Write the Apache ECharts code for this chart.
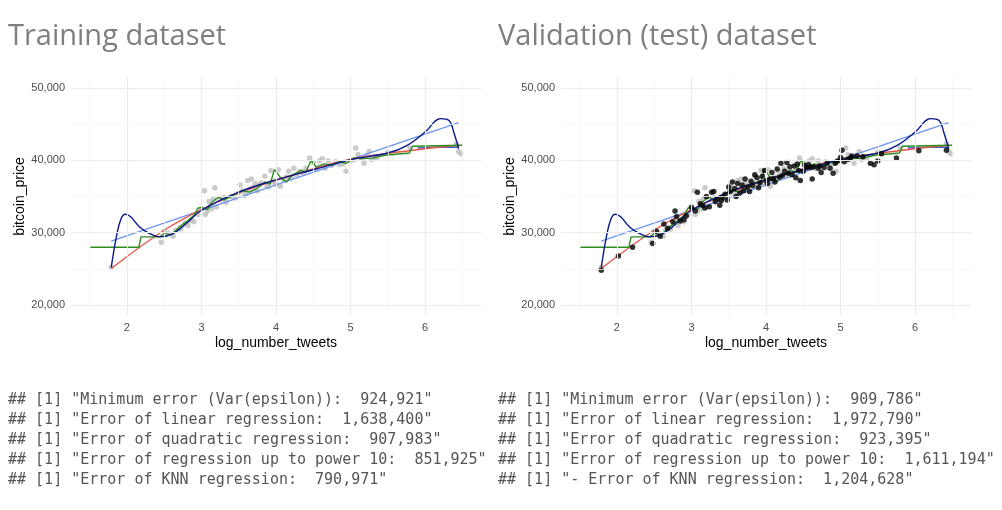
<!DOCTYPE html>
<html>
<head>
<meta charset="utf-8">
<title>bitcoin_price vs log_number_tweets</title>
<script src="https://cdn.jsdelivr.net/npm/echarts@6/dist/echarts.min.js"></script>
<style>html,body{margin:0;background:#fff}#main{width:1002px;height:510px}</style>
</head>
<body>
<div id="main"></div>
<script>
// 数据
var titles = ['Training dataset', 'Validation (test) dataset'];
var xTicks = [2, 3, 4, 5, 6];
var xMinor = [1.5, 2.5, 3.5, 4.5, 5.5, 6.5];
var yTicks = [20000, 30000, 40000, 50000];
var yMinor = [25000, 35000, 45000];

var trainPts = [[1.79,25200],[2.46,28700],[2.5,30200],[2.56,29900],[2.62,29500],[2.65,30300],[2.72,30500],[2.78,31300],[2.82,31000],[2.86,31700],[2.9,31500],[2.95,32500],[3.0,33300],[3.04,35800],[3.05,32500],[3.08,33000],[3.1,34300],[3.12,33800],[3.14,33300],[3.16,34700],[3.18,36200],[3.2,33600],[3.25,34500],[3.3,34900],[3.33,34200],[3.4,35000],[3.45,34800],[3.5,35500],[3.52,36600],[3.55,35800],[3.58,35100],[3.6,35400],[3.62,37200],[3.65,36000],[3.67,37400],[3.7,36200],[3.72,36800],[3.75,35800],[3.78,36600],[3.8,36900],[3.85,37800],[3.88,36400],[3.9,36300],[3.93,38600],[3.96,37000],[4.0,36700],[4.03,38700],[4.06,36400],[4.1,37300],[4.14,37700],[4.17,38500],[4.2,37600],[4.24,38900],[4.28,37900],[4.32,38500],[4.36,38300],[4.4,38900],[4.45,40300],[4.5,39700],[4.55,38800],[4.58,39900],[4.62,40200],[4.66,38900],[4.7,39900],[4.75,39300],[4.8,39800],[4.85,39400],[4.9,39500],[4.94,38500],[5.0,39900],[5.05,40100],[5.07,41700],[5.1,40800],[5.14,40300],[5.18,39600],[5.22,40700],[5.25,41200],[5.28,40100],[5.32,40500],[5.35,40300],[5.5,41100],[5.8,41700],[6.42,42300],[6.48,40900],[6.45,41200]];

var testPts = [[1.79,24800],[2.02,26800],[2.21,28000],[2.48,28500],[2.53,30200],[2.58,29500],[2.63,31200],[2.68,30600],[2.75,31500],[2.78,33000],[2.8,32200],[2.85,31600],[2.9,31800],[2.93,32300],[3.0,33500],[3.05,33000],[3.08,35600],[3.12,34000],[3.15,33800],[3.18,33400],[3.2,35000],[3.24,33600],[3.27,35600],[3.3,35700],[3.32,34300],[3.35,34700],[3.38,33800],[3.4,34400],[3.42,34900],[3.45,35300],[3.48,34500],[3.5,36300],[3.52,35700],[3.55,37000],[3.58,36100],[3.6,35000],[3.62,36800],[3.65,35500],[3.68,36600],[3.7,35800],[3.72,37400],[3.75,36300],[3.78,35700],[3.8,37100],[3.82,36500],[3.85,38000],[3.88,37600],[3.9,36200],[3.92,36900],[3.95,37800],[3.98,38600],[4.0,37200],[4.02,36800],[4.05,37400],[4.08,38300],[4.1,37500],[4.12,37000],[4.15,38800],[4.18,37700],[4.2,39600],[4.22,37900],[4.25,38500],[4.28,39700],[4.3,38200],[4.32,39100],[4.35,38000],[4.38,39200],[4.4,37600],[4.42,39500],[4.44,38600],[4.46,37200],[4.5,38500],[4.52,39300],[4.55,39000],[4.57,39400],[4.6,39000],[4.62,37400],[4.64,39100],[4.7,38900],[4.72,39200],[4.74,38300],[4.78,39000],[4.82,39600],[4.86,38900],[4.9,38200],[4.93,39600],[4.96,39900],[5.0,40400],[5.02,41400],[5.05,39800],[5.1,40100],[5.13,40300],[5.15,40600],[5.22,40600],[5.3,40500],[5.4,39600],[5.45,39400],[5.5,39900],[5.55,40900],[5.75,40300],[6.05,41300],[6.42,41400]];

var linX = [1.79, 6.45];
var linY = [28830, 45200];
var quadX = [1.79, 2.5, 3.0, 3.5, 4.0, 4.5, 5.0, 5.5, 6.0, 6.45];
var quadY = [25060, 30340, 33200, 35500, 37240, 38800, 40140, 40950, 41600, 42070];
var polyX = [1.79, 1.86, 1.92, 1.98, 2.05, 2.17, 2.3, 2.44, 2.62, 2.8, 3.0, 3.5, 4.0, 4.5, 5.0, 5.5, 5.76, 6.0, 6.21, 6.32, 6.39, 6.45];
var polyY = [25200, 29500, 31900, 32550, 32200, 30800, 29900, 29420, 29890, 31300, 33100, 35600, 37300, 38700, 40100, 41000, 42070, 43900, 45750, 45500, 43700, 41600];
var flatX = [5.9, 6.2, 6.45];
var flatY = [41700, 41800, 41800];
var knnX = [1.51, 2.16, 2.19, 2.44, 2.5, 2.6, 2.7, 2.8, 2.9, 2.95, 3.0, 3.08, 3.14, 3.23, 3.3, 3.43, 3.55, 3.65, 3.74, 3.85, 3.92, 3.98, 4.06, 4.14, 4.22, 4.34, 4.4, 4.47, 4.54, 4.65, 4.75, 4.85, 4.94, 5.05, 5.16, 5.3, 5.46, 5.79, 5.83, 6.5];
var knnY = [28000, 28000, 29420, 29420, 29900, 29700, 30800, 31500, 32400, 33380, 33500, 33200, 34200, 34940, 34500, 35200, 35800, 35600, 36100, 37000, 36700, 38720, 37600, 37000, 38000, 38620, 38300, 40000, 39080, 39500, 39300, 39800, 39590, 40300, 40230, 40300, 40690, 41010, 41930, 42070];

var texts = [
  ['## [1] "Minimum error (Var(epsilon)):  924,921"',
   '## [1] "Error of linear regression:  1,638,400"',
   '## [1] "Error of quadratic regression:  907,983"',
   '## [1] "Error of regression up to power 10:  851,925"',
   '## [1] "Error of KNN regression:  790,971"'],
  ['## [1] "Minimum error (Var(epsilon)):  909,786"',
   '## [1] "Error of linear regression:  1,972,790"',
   '## [1] "Error of quadratic regression:  923,395"',
   '## [1] "Error of regression up to power 10:  1,611,194"',
   '## [1] "- Error of KNN regression:  1,204,628"']
];

function zip(xs, ys) {
  return xs.map(function (x, i) { return [x, ys[i]]; });
}

var grids = [], xAxes = [], yAxes = [], series = [], graphics = [];
var lefts = [71, 561];

for (var g = 0; g < 2; g++) {
  grids.push({left: lefts[g], top: 77, width: 410, height: 239, backgroundColor: '#fff', show: false});
  xAxes.push({
    type: 'value', gridIndex: g, min: 1.25, max: 6.75,
    name: 'log_number_tweets', nameLocation: 'middle', nameGap: 20,
    nameTextStyle: {color: '#000', fontSize: 14, fontFamily: 'Liberation Sans'},
    axisLine: {show: false}, axisTick: {show: false}, splitLine: {show: false},
    axisLabel: {customValues: xTicks, color: '#4d4d4d', fontSize: 11, margin: 6, fontFamily: 'Liberation Sans'}
  });
  yAxes.push({
    type: 'value', gridIndex: g, min: 18500, max: 51500,
    name: 'bitcoin_price', nameLocation: 'middle', nameGap: 44,
    nameTextStyle: {color: '#000', fontSize: 14, fontFamily: 'Liberation Sans'},
    axisLine: {show: false}, axisTick: {show: false}, splitLine: {show: false},
    axisLabel: {customValues: yTicks, color: '#4d4d4d', fontSize: 11, margin: 6, fontFamily: 'Liberation Sans'}
  });

  // 网格线
  var ml = [];
  xTicks.forEach(function (v) { ml.push({xAxis: v, lineStyle: {color: '#ebebeb', width: 1.1}}); });
  xMinor.forEach(function (v) { ml.push({xAxis: v, lineStyle: {color: '#f5f5f5', width: 0.8}}); });
  yTicks.forEach(function (v) { ml.push({yAxis: v, lineStyle: {color: '#ebebeb', width: 1.1}}); });
  yMinor.forEach(function (v) { ml.push({yAxis: v, lineStyle: {color: '#f5f5f5', width: 0.8}}); });
  series.push({type: 'line', xAxisIndex: g, yAxisIndex: g, data: [], silent: true,
    markLine: {symbol: 'none', label: {show: false}, lineStyle: {type: 'solid'}, data: ml, animation: false}});

  series.push({type: 'scatter', xAxisIndex: g, yAxisIndex: g, data: trainPts, symbolSize: 5.5,
    itemStyle: {color: '#bebebe'}, z: 2});

  var lines = [
    [linX, linY, '#6d95ee', false],
    [flatX, flatY, '#3b5bd6', false],
    [quadX, quadY, '#e8564a', true],
    [knnX, knnY, '#2e8b1e', false],
    [polyX, polyY, '#0a1a8a', true]
  ];
  lines.forEach(function (l) {
    series.push({type: 'line', xAxisIndex: g, yAxisIndex: g, data: zip(l[0], l[1]),
      showSymbol: false, smooth: l[3] ? 0.4 : false, lineStyle: {color: l[2], width: 1.4}, z: 3});
  });

  if (g === 1) {
    series.push({type: 'scatter', xAxisIndex: g, yAxisIndex: g, data: testPts, symbolSize: 5.5,
      itemStyle: {color: '#000'}, z: 4});
  }

  graphics.push({type: 'text', left: g === 0 ? 8 : 498, top: 22,
    style: {text: titles[g], fill: '#7f7f7f', font: '29px "Open Sans", "Liberation Sans"'}});
  texts[g].forEach(function (t, i) {
    graphics.push({type: 'text', left: g === 0 ? 8 : 498, top: 393 + i * 20,
      style: {text: t, fill: '#555', font: '15px "DejaVu Sans Mono", monospace'}});
  });
}

var myChart = echarts.init(document.getElementById('main'));
myChart.setOption({
  animation: false,
  backgroundColor: '#fff',
  grid: grids, xAxis: xAxes, yAxis: yAxes, series: series, graphic: graphics
});
</script>
</body>
</html>
